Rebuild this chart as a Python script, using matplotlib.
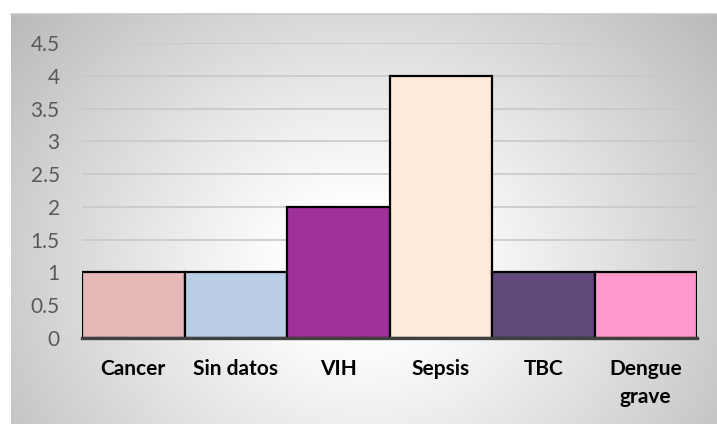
import numpy as np
import matplotlib
matplotlib.use('Agg')
import matplotlib.pyplot as plt

# Chart data
categories = ['Cancer', 'Sin datos', 'VIH', 'Sepsis', 'TBC', 'Dengue\ngrave']
values = [1, 1, 2, 4, 1, 1]
bar_colors = ['#E6B9B8', '#B9CDE5', '#A0309A', '#FDEADA', '#604A7B', '#FF99CC']
y_ticks = [0, 0.5, 1, 1.5, 2, 2.5, 3, 3.5, 4, 4.5]
y_tick_labels = ['0', '0.5', '1', '1.5', '2', '2.5', '3', '3.5', '4', '4.5']

plt.rcParams['font.family'] = ['Lato', 'DejaVu Sans']

W, H = 717, 424
fig = plt.figure(figsize=(W / 100, H / 100), dpi=100)
fig.patch.set_facecolor('white')

# Radial gradient panel behind the chart (white centre, grey edges)
bg = fig.add_axes([11 / W, 0, (W - 11) / W, (H - 14) / H])
ny, nx = 300, 500
yy, xx = np.mgrid[0:ny, 0:nx]
cx, cy = nx * 0.5, ny * 0.62
r = np.sqrt(((xx - cx) / (nx * 0.5)) ** 2 + ((yy - cy) / (ny * 0.75)) ** 2)
t = np.clip((r - 0.2) / 0.9, 0, 1.3)
shade = 1 - 0.22 * t ** 1.1
bg.imshow(np.dstack([shade] * 3), aspect='auto', extent=[0, 1, 0, 1],
          interpolation='bilinear')
bg.set_axis_off()
fig.add_artist(plt.Line2D([11 / W, 1], [(H - 14) / H] * 2, color='#c8c8c8', lw=1.2))

# Main plot area
ax = fig.add_axes([82 / W, (H - 338) / H, (697 - 82) / W, (338 - 43) / H])
ax.patch.set_alpha(0)
x = np.arange(len(categories))
ax.bar(x, values, width=1.0, color=bar_colors, edgecolor='black', linewidth=1.6, zorder=3)

ax.set_xlim(-0.5, len(categories) - 0.5)
ax.set_ylim(0, 4.5)
ax.set_yticks(y_ticks)
ax.set_yticklabels(y_tick_labels, fontsize=15, color='#595959')
ax.set_xticks(x)
ax.set_xticklabels(categories, fontsize=15, fontweight='bold', color='black',
                   linespacing=1.5, va='top')
ax.tick_params(axis='both', length=0)
ax.tick_params(axis='x', pad=15)
ax.tick_params(axis='y', pad=16)

ax.grid(axis='y', color='#c8c8c8', linewidth=1.2, zorder=0)
for s in ['top', 'right', 'left']:
    ax.spines[s].set_visible(False)
ax.spines['bottom'].set_color('#404040')
ax.spines['bottom'].set_linewidth(2.4)
ax.spines['bottom'].set_zorder(4)

fig.savefig('out.png', dpi=100)
